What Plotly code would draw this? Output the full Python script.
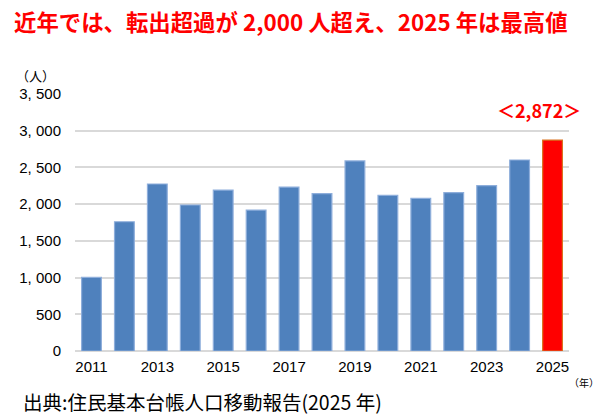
import plotly.graph_objects as go

years = list(range(2011, 2026))
values = [1004, 1760, 2274, 1988, 2192, 1919, 2233, 2142, 2588, 2120, 2079, 2156, 2251, 2601, 2872]
ytick_vals = [0, 500, 1000, 1500, 2000, 2500, 3000, 3500]
ytick_text = ["0", "500", "1, 000", "1, 500", "2, 000", "2, 500", "3, 000", "3, 500"]
xtick_vals = [2011, 2013, 2015, 2017, 2019, 2021, 2023, 2025]
title_text = "近年では、転出超過が 2,000 人超え、2025 年は最高値"
peak_label = "＜2,872＞"
source_text = "出典:住民基本台帳人口移動報告(2025 年)"

fill_colors = ["#4F81BD"] * (len(years) - 1) + ["#FF0000"]
line_colors = ["#8EAEDB"] * (len(years) - 1) + ["#D9731F"]

W, H = 607, 416
L, R, T, B = 75, 38, 94, 65
pw, ph = W - L - R, H - T - B

def px(x):
    return (x - L) / pw

def py(y):
    return (H - B - y) / ph

fig = go.Figure(go.Bar(
    x=years, y=values,
    marker=dict(color=fill_colors, line=dict(color=line_colors, width=1.2)),
    width=0.6,
    hoverinfo="skip",
))

tick_font = dict(family="Liberation Sans Narrow, Liberation Sans, Arial, sans-serif", size=15, color="#000000")

fig.update_layout(
    width=W, height=H,
    margin=dict(l=L, r=R, t=T, b=B, autoexpand=False),
    paper_bgcolor="white", plot_bgcolor="white",
    showlegend=False,
    xaxis=dict(range=[2010.5, 2025.5], tickvals=xtick_vals, ticktext=[str(v) for v in xtick_vals],
               showgrid=False, showline=False, zeroline=False, ticks="", tickfont=tick_font,
               ticklabelstandoff=5),
    yaxis=dict(range=[0, 3500], tickvals=ytick_vals, ticktext=ytick_text,
               showgrid=True, gridcolor="#D9D9D9", gridwidth=1.5, zeroline=True,
               zerolinecolor="#D9D9D9", zerolinewidth=1.5, showline=False, ticks="",
               ticklabelstandoff=13, tickfont=tick_font),
    annotations=[
        dict(text=title_text, xref="paper", yref="paper", x=px(12), y=py(21),
             xanchor="left", yanchor="middle", showarrow=False,
             font=dict(family="Noto Sans CJK JP", size=22.4, color="#FF0000", weight="bold")),
        dict(text="（人）", xref="paper", yref="paper", x=px(14), y=py(75),
             xanchor="left", yanchor="middle", showarrow=False,
             font=dict(family="Noto Sans CJK JP", size=13, color="#000000")),
        dict(text="（年）", xref="paper", yref="paper", x=px(567), y=py(382),
             xanchor="left", yanchor="middle", showarrow=False,
             font=dict(family="Noto Sans CJK JP", size=10, color="#000000")),
        dict(text=peak_label, x=years[-1], y=values[-1], xref="x", yref="y",
             yshift=30, xshift=-14, xanchor="center", yanchor="middle", showarrow=False,
             font=dict(family="Noto Sans CJK JP", size=18, color="#FF0000", weight="bold")),
        dict(text=source_text, xref="paper", yref="paper", x=px(21), y=py(401),
             xanchor="left", yanchor="middle", showarrow=False,
             font=dict(family="Noto Sans CJK JP", size=19.5, color="#000000")),
    ],
)

fig.write_html("out.html", config={"displayModeBar": False},
               post_script="document.body.style.margin='0';")
